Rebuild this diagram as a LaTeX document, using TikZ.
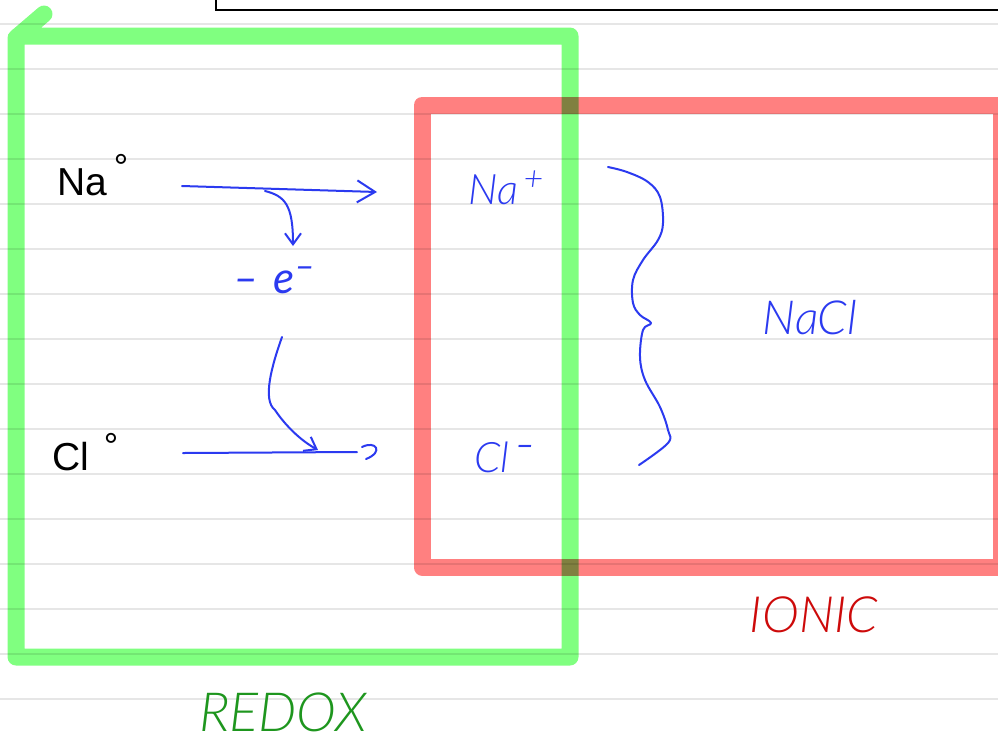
\documentclass[tikz,border=0pt]{standalone}
\usepackage{fontspec}
\setmainfont{Liberation Sans}
\newfontfamily\hand{Lato Light Italic}
\newfontfamily\handbold{Lato Italic}
\usetikzlibrary{arrows.meta}

\definecolor{ink}{RGB}{43,58,240}
\definecolor{hilgreen}{RGB}{128,255,128}
\definecolor{hilred}{RGB}{255,128,128}
\definecolor{rulegray}{RGB}{230,230,230}
\definecolor{redoxgreen}{RGB}{30,150,30}
\definecolor{ionicred}{RGB}{205,10,10}

\begin{document}
\begin{tikzpicture}[x=1pt,y=-1pt,
  pen/.style={draw=ink, line width=2pt, line cap=round, line join=round},
  highlight/.style={line width=17pt, line join=round, line cap=round, blend mode=multiply},
  typed/.style={font=\fontsize{39}{39}\selectfont, text=black, inner sep=0pt, anchor=base west},
  degree/.style={font=\fontsize{36}{36}\selectfont, text=black, inner sep=0pt},
  handtxt/.style={text=ink, inner sep=0pt, anchor=base west, font=\hand\fontsize{42}{42}\selectfont},
  barb/.style={-{Straight Barb[length=18pt,width=22pt,line width=2pt]}},
  smallbarb/.style={-{Straight Barb[length=11pt,width=16pt,line width=2pt]}}
]
\useasboundingbox (0,0) rectangle (998,740);
\clip (0,0) rectangle (998,740);
\fill[white] (0,0) rectangle (998,740);

% ruled notebook lines
\foreach \k in {0,...,15}
  \draw[rulegray, line width=2pt] (0,24+45*\k) -- (998,24+45*\k);

% box at the top edge
\draw[black, line width=1.5pt] (216,-30) rectangle (1010,10);

% highlighter frames
\draw[highlight, hilgreen] (44,14) -- (16,38) -- (16,657) -- (570,657) -- (570,36) -- (18,36);
\draw[highlight, hilred] (422,105) rectangle (1001,567);

% typed species
\node[typed] (na) at (57,195) {Na};
\node[degree] (nadeg) at (121,167) {°};
\node[typed] (cl) at (52,470) {Cl};
\node[degree] (cldeg) at (111,446) {°};

% handwritten products
\node[handtxt] (naplus) at (468,204)
  {Na\raisebox{14pt}{\fontsize{34}{34}\selectfont\,+}};
\node[handtxt] (clminus) at (474,472)
  {Cl\raisebox{16pt}{\handbold\fontsize{34}{34}\selectfont\,–}};
\node[handtxt, anchor=base, font=\hand\fontsize{47}{47}\selectfont] (nacl) at (810,334) {NaCl};
\node[handtxt, font=\hand\fontsize{44}{44}\selectfont] (elec) at (233,293)
  {\handbold –\,\,e\raisebox{15pt}{\handbold\fontsize{36}{36}\selectfont –}};

% reaction arrows
\coordinate (naTail) at (182,186);
\coordinate (naHead) at (377,192);
\coordinate (clTail) at (183,453);
\coordinate (clHead) at (357,452);
\draw[pen, barb] (naTail) -- (naHead);
\draw[pen] (clTail) -- (clHead);
\draw[pen] (362,447) .. controls (376,440) and (384,452) .. (366,459);

% electron transfer
\coordinate (lossStart) at (265,191);
\coordinate (lossEnd) at (293,246);
\draw[pen, smallbarb] (lossStart) .. controls (285,196) and (293,205) .. (lossEnd);
\coordinate (gainStart) at (282,337);
\coordinate (gainEnd) at (318,450);
\draw[pen, smallbarb] (gainStart) .. controls (272,365) and (262,400) .. (275,410)
  .. controls (285,425) and (300,440) .. (gainEnd);

% brace grouping the ions
\draw[pen] plot[smooth, tension=0.6] coordinates {
  (608,167) (627,172) (648,182) (660,197) (663,223) (658,240) (643,260)
  (633,280) (633,303) (640,315) (651,323) (643,330) (640,357) (645,380)
  (660,407) (668,430) (668,443) (639,465)};

% category labels
\node[inner sep=0pt, anchor=base, text=redoxgreen, font=\hand\fontsize{54}{54}\selectfont] (redox) at (283,731) {REDOX};
\node[inner sep=0pt, anchor=base, text=ionicred, font=\hand\fontsize{50}{50}\selectfont] (ionic) at (814,632) {IONIC};
\end{tikzpicture}
\end{document}
